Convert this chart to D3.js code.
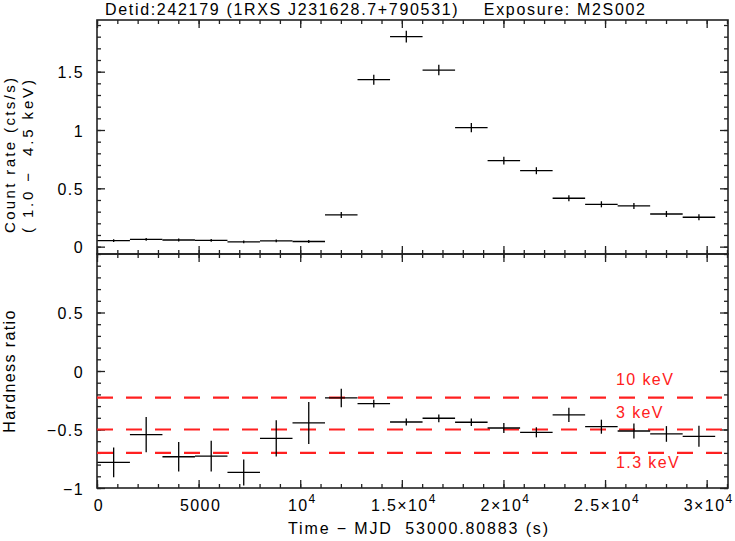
<!DOCTYPE html>
<html>
<head>
<meta charset="utf-8">
<script src="https://cdn.jsdelivr.net/npm/d3@7"></script>
<style>
  body { margin: 0; background: #fff; }
  svg text { font-family: "Liberation Sans", Arial, sans-serif; fill: #000; font-size: 16px; letter-spacing: 1.4px; }
</style>
</head>
<body>
<script>
// time bin centres (s) and half width
let binCenters = [820, 2420, 4020, 5620, 7220, 8820, 10420, 12020, 13620, 15220,
                  16820, 18420, 20020, 21620, 23220, 24820, 26420, 28020, 29620]
let halfWidth = 800

// count rate (1.0 - 4.5 keV)
let rate = [0.051, 0.062, 0.057, 0.053, 0.041, 0.050, 0.044, 0.272, 1.431, 1.800,
            1.514, 1.020, 0.737, 0.651, 0.415, 0.363, 0.349, 0.280, 0.252]
let rateErr = [0.012, 0.012, 0.012, 0.012, 0.011, 0.012, 0.012, 0.026, 0.043, 0.050,
               0.045, 0.040, 0.033, 0.030, 0.026, 0.026, 0.026, 0.026, 0.026]

// hardness ratio
let hr = [-0.781, -0.544, -0.733, -0.727, -0.867, -0.576, -0.444, -0.230, -0.279, -0.436,
          -0.404, -0.438, -0.487, -0.524, -0.375, -0.476, -0.513, -0.538, -0.558]
let hrErr = [0.128, 0.150, 0.127, 0.131, 0.111, 0.154, 0.179, 0.079, 0.034, 0.029,
             0.033, 0.033, 0.043, 0.043, 0.060, 0.060, 0.064, 0.067, 0.089]

// reference hardness levels
let refLevels = [-0.227, -0.5, -0.70]
let refLabels = ['10 keV', '3 keV', '1.3 keV']

let xTicks = [0, 5000, 10000, 15000, 20000, 25000, 30000]
let xTickLabels = [['0', ''], ['5000', ''], ['10', '4'], ['1.5\u00d710', '4'],
                   ['2\u00d710', '4'], ['2.5\u00d710', '4'], ['3\u00d710', '4']]
let yTopTicks = [0, 0.5, 1, 1.5]
let yTopLabels = ['0', '0.5', '1', '1.5']
let yBotTicks = [-1, -0.5, 0, 0.5]
let yBotLabels = ['\u22121', '\u22120.5', '0', '0.5']

let svg = d3.select('body').append('svg')
    .attr('width', 735)
    .attr('height', 541)

let padL = 97, padR = 728, padT = 20, padMid = 254, padB = 488

let xScale = d3.scaleLinear().domain([0, 31050]).range([padL, padR])
let yTop = d3.scaleLinear().domain([-0.063, 1.943]).range([padMid, padT])
let yBot = d3.scaleLinear().domain([-1, 1]).range([padB, padMid])

let minorX = d3.range(0, 31001, 1000)
let minorTop = d3.range(0, 1.95, 0.1)
let minorBot = d3.range(-1, 1.01, 0.1)

function drawFrame(yScale, y0, y1, majorY, minorY) {
    let g = svg.append('g')
    // inward ticks on all four sides
    let axes = [
        [d3.axisBottom(xScale), 'translate(0,' + y1 + ')', xTicks, minorX],
        [d3.axisTop(xScale), 'translate(0,' + y0 + ')', xTicks, minorX],
        [d3.axisLeft(yScale), 'translate(' + padL + ',0)', majorY, minorY],
        [d3.axisRight(yScale), 'translate(' + padR + ',0)', majorY, minorY]
    ]
    axes.forEach(function(a) {
        g.append('g').attr('transform', a[1])
            .call(a[0].tickValues(a[3]).tickSize(-4).tickFormat(''))
        g.append('g').attr('transform', a[1])
            .call(a[0].tickValues(a[2]).tickSize(-8).tickFormat(''))
    })
    g.selectAll('.domain').remove()
    g.selectAll('.tick line').attr('stroke', '#222').attr('stroke-width', 1.3)
    g.append('rect')
        .attr('x', padL).attr('y', y0)
        .attr('width', padR - padL).attr('height', y1 - y0)
        .attr('fill', 'none').attr('stroke', '#222').attr('stroke-width', 1.6)
    return g
}

drawFrame(yTop, padT, padMid, yTopTicks, minorTop)
drawFrame(yBot, padMid, padB, yBotTicks, minorBot)

// y tick labels
yTopTicks.forEach(function(t, i) {
    svg.append('text').attr('x', 84).attr('y', yTop(t) + 6.5)
        .attr('text-anchor', 'end').text(yTopLabels[i])
})
yBotTicks.forEach(function(t, i) {
    svg.append('text').attr('x', 84).attr('y', yBot(t) + 6.5)
        .attr('text-anchor', 'end').text(yBotLabels[i])
})

// x tick labels with exponents
xTicks.forEach(function(t, i) {
    let txt = svg.append('text').attr('x', xScale(t) + 2).attr('y', 511)
        .attr('text-anchor', 'middle')
    txt.append('tspan').text(xTickLabels[i][0])
    if (xTickLabels[i][1]) {
        txt.append('tspan').attr('dy', -8).attr('font-size', 12).text(xTickLabels[i][1])
    }
})

// titles
svg.append('text').attr('x', 105).attr('y', 15)
    .attr('xml:space', 'preserve')
    .attr('textLength', 540).attr('lengthAdjust', 'spacing')
    .style('letter-spacing', '0px')
    .text('Detid:242179 (1RXS J231628.7+790531)    Exposure: M2S002')
svg.append('text').attr('x', 288).attr('y', 534)
    .attr('xml:space', 'preserve')
    .attr('textLength', 260).attr('lengthAdjust', 'spacing')
    .style('letter-spacing', '0px')
    .text('Time \u2212 MJD  53000.80883 (s)')
svg.append('text').attr('transform', 'translate(15,233) rotate(-90)')
    .attr('textLength', 155).attr('lengthAdjust', 'spacing')
    .style('letter-spacing', '0px').style('font-size', '15px')
    .text('Count rate (cts/s)')
svg.append('text').attr('transform', 'translate(33,233) rotate(-90)')
    .attr('xml:space', 'preserve')
    .attr('textLength', 153).attr('lengthAdjust', 'spacing')
    .style('letter-spacing', '0px').style('font-size', '15px')
    .text('( 1.0 \u2212  4.5 keV)')
svg.append('text').attr('transform', 'translate(15,' + (padMid + padB) / 2 + ') rotate(-90)')
    .attr('text-anchor', 'middle').text('Hardness ratio')

// reference lines
refLevels.forEach(function(v) {
    svg.append('line')
        .attr('x1', padL).attr('x2', padR)
        .attr('y1', yBot(v)).attr('y2', yBot(v))
        .attr('stroke', '#ff2020').attr('stroke-width', 2.2)
        .attr('stroke-dasharray', '16,13')
})
let labelY = [yBot(refLevels[0]) - 13, yBot(refLevels[1]) - 12, yBot(refLevels[2]) + 15]
refLabels.forEach(function(l, i) {
    svg.append('text').attr('x', 616).attr('y', labelY[i])
        .style('fill', '#ff2020').text(l)
})

// data crosses
function crosses(yScale, vals, errs) {
    let g = svg.append('g').attr('stroke', '#000').attr('stroke-width', 1.3)
    g.selectAll('.h').data(binCenters).enter().append('line')
        .attr('x1', function(d) { return xScale(d - halfWidth) })
        .attr('x2', function(d) { return xScale(d + halfWidth) })
        .attr('y1', function(d, i) { return yScale(vals[i]) })
        .attr('y2', function(d, i) { return yScale(vals[i]) })
    g.selectAll('.v').data(binCenters).enter().append('line')
        .attr('x1', function(d) { return xScale(d) })
        .attr('x2', function(d) { return xScale(d) })
        .attr('y1', function(d, i) { return yScale(vals[i] - errs[i]) })
        .attr('y2', function(d, i) { return yScale(vals[i] + errs[i]) })
}
crosses(yTop, rate, rateErr)
crosses(yBot, hr, hrErr)
</script>
</body>
</html>
